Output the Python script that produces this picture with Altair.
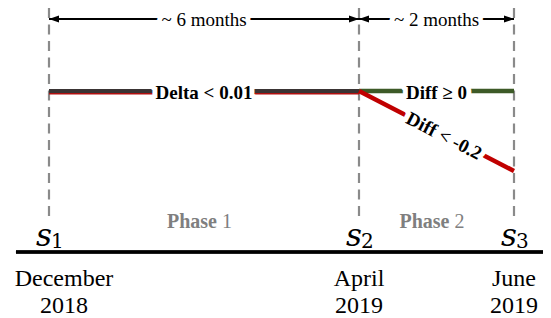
import altair as alt
import pandas as pd

# ---------------- data ----------------
snap_sub = ["1", "2", "3"]
snap_month = [0, 4, 6]                      # Dec 2018 = 0, Apr 2019 = 4, Jun 2019 = 6
month_labels = ["December\n2018", "April\n2019", "June\n2019"]

phase_num = ["1", "2"]
phase_start = [0, 4]
phase_end = [4, 6]
duration_labels = ["~ 6 months", "~ 2 months"]

trend_name = ["Delta < 0.01", "Delta < 0.01", "Diff ≥ 0", "Diff ≥ 0", "Diff < -0.2", "Diff < -0.2"]
trend_month = [0, 4, 4, 6, 4, 6]
trend_value = [0.0, 0.0, 0.0, 0.0, 0.0, -0.2]

# ---------------- tables ----------------
snaps = pd.DataFrame({"sub": snap_sub, "month": snap_month, "label": month_labels})
phases = pd.DataFrame({"num": phase_num, "start": phase_start, "end": phase_end,
                       "dur": duration_labels})
phases["mid"] = (phases["start"] + phases["end"]) / 2
trend = pd.DataFrame({"name": trend_name, "month": trend_month, "value": trend_value})
tlab = trend.groupby("name", sort=False).mean().reset_index()

W, H = 535, 310
X = alt.Scale(domain=[-0.529, -0.529 + W / 77.5], nice=False, zero=False)
Y = alt.Scale(domain=[0.2075 - H / 400, 0.2075], nice=False, zero=False)
SERIF = "Liberation Serif"
GRAY = "#7f7f7f"

def xq(f):
    return alt.X(f, type="quantitative", scale=X, axis=None)

def yq(f):
    return alt.Y(f, type="quantitative", scale=Y, axis=None)

def yd(v):
    return alt.Y(datum=v, scale=Y, axis=None)

# dashed snapshot lines
dashes = alt.Chart(snaps).mark_rule(color="#8a8a8a", strokeWidth=2.2, strokeDash=[10, 6.5]).encode(
    x=xq("month"), y=yd(0.2075), y2=alt.Y2(datum=-0.3175))

# trend lines
under = alt.Chart(trend[trend.name == "Delta < 0.01"]).mark_line(
    color="#b01010", strokeWidth=2.5, yOffset=2.2).encode(x=xq("month"), y=yq("value"))
stable = alt.Chart(trend[trend.name == "Delta < 0.01"]).mark_line(
    color="#3a3434", strokeWidth=4).encode(x=xq("month"), y=yq("value"))
moves = alt.Chart(trend[trend.name != "Delta < 0.01"]).mark_line(strokeWidth=4.5).encode(
    x=xq("month"), y=yq("value"),
    color=alt.Color("name:N", scale=alt.Scale(domain=["Diff ≥ 0", "Diff < -0.2"],
                                              range=["#3d5a27", "#c00000"]), legend=None))

flat_lab = tlab[tlab.name != "Diff < -0.2"]
down_lab = tlab[tlab.name == "Diff < -0.2"]

def flat_text(**kw):
    return alt.Chart(flat_lab).mark_text(font=SERIF, fontSize=19, fontWeight="bold",
                                         baseline="middle", dy=2, **kw).encode(
        x=xq("month"), y=yq("value"), text="name:N")

def down_text(**kw):
    return alt.Chart(down_lab).mark_text(font=SERIF, fontSize=19, fontWeight="bold",
                                         baseline="middle", angle=27.3, dx=9, dy=1, **kw).encode(
        x=xq("month"), y=yq("value"), text="name:N")

halo = dict(color="white", stroke="white", strokeWidth=10, strokeJoin="round")

# duration arrows
arrow_y = 0.18
arrows = alt.Chart(phases).mark_rule(color="black", strokeWidth=2).encode(
    x=xq("start"), x2="end", y=yd(arrow_y))
head_l = alt.Chart(phases).mark_point(shape="M0,0L2.5,-0.9L2.5,0.9Z", size=64, filled=True,
                                      color="black", opacity=1, strokeWidth=0).encode(
    x=xq("start"), y=yd(arrow_y))
head_r = alt.Chart(phases).mark_point(shape="M0,0L-2.5,-0.9L-2.5,0.9Z", size=64, filled=True,
                                      color="black", opacity=1, strokeWidth=0).encode(
    x=xq("end"), y=yd(arrow_y))

def dur_text(**kw):
    return alt.Chart(phases).mark_text(font=SERIF, fontSize=19, baseline="middle", dy=1, **kw).encode(
        x=xq("mid"), y=yd(arrow_y), text="dur:N")

# phase labels
phase_word = alt.Chart(phases).mark_text(font=SERIF, fontSize=20, fontWeight="bold", color=GRAY,
                                         align="right", baseline="alphabetic", dx=13).encode(
    x=xq("mid"), y=yd(-0.3425), text=alt.value("Phase"))
phase_n = alt.Chart(phases).mark_text(font=SERIF, fontSize=20, color=GRAY,
                                      align="left", baseline="alphabetic", dx=18).encode(
    x=xq("mid"), y=yd(-0.3425), text="num:N")

# snapshot symbols
s_main = alt.Chart(snaps).mark_text(font="DejaVu Serif", fontStyle="italic", fontSize=31,
                                    align="right", baseline="alphabetic", dx=3).encode(
    x=xq("month"), y=yd(-0.3875), text=alt.value("s"))
s_sub = alt.Chart(snaps).mark_text(font="DejaVu Serif", fontSize=20,
                                   align="left", baseline="alphabetic", dx=2).encode(
    x=xq("month"), y=yd(-0.3925), text="sub:N")

# time axis
axis_line = alt.Chart(snaps).mark_rule(color="black", strokeWidth=3).encode(
    x=alt.X(datum=-0.426, scale=X, axis=None), x2=alt.X2(datum=-0.529 + W / 77.5),
    y=yd(-0.4025))

def months(sel, dx):
    return alt.Chart(snaps[sel]).mark_text(font=SERIF, fontSize=24, lineBreak="\n", lineHeight=27,
                                           baseline="alphabetic", dx=dx).encode(
        x=xq("month"), y=yd(-0.4875), text="label:N")

chart = alt.layer(
    dashes, under, stable, moves,
    flat_text(**halo), flat_text(color="black"),
    down_text(**halo), down_text(color="black"),
    arrows, dur_text(**halo), dur_text(color="black"), head_l, head_r,
    phase_word, phase_n, s_main, s_sub, axis_line,
    months(snaps.month == 0, 15), months(snaps.month != 0, 0),
).properties(width=W, height=H, autosize="none", padding=0).configure_view(stroke=None)

chart.save("out.html", embed_options={"renderer": "svg", "actions": False})
